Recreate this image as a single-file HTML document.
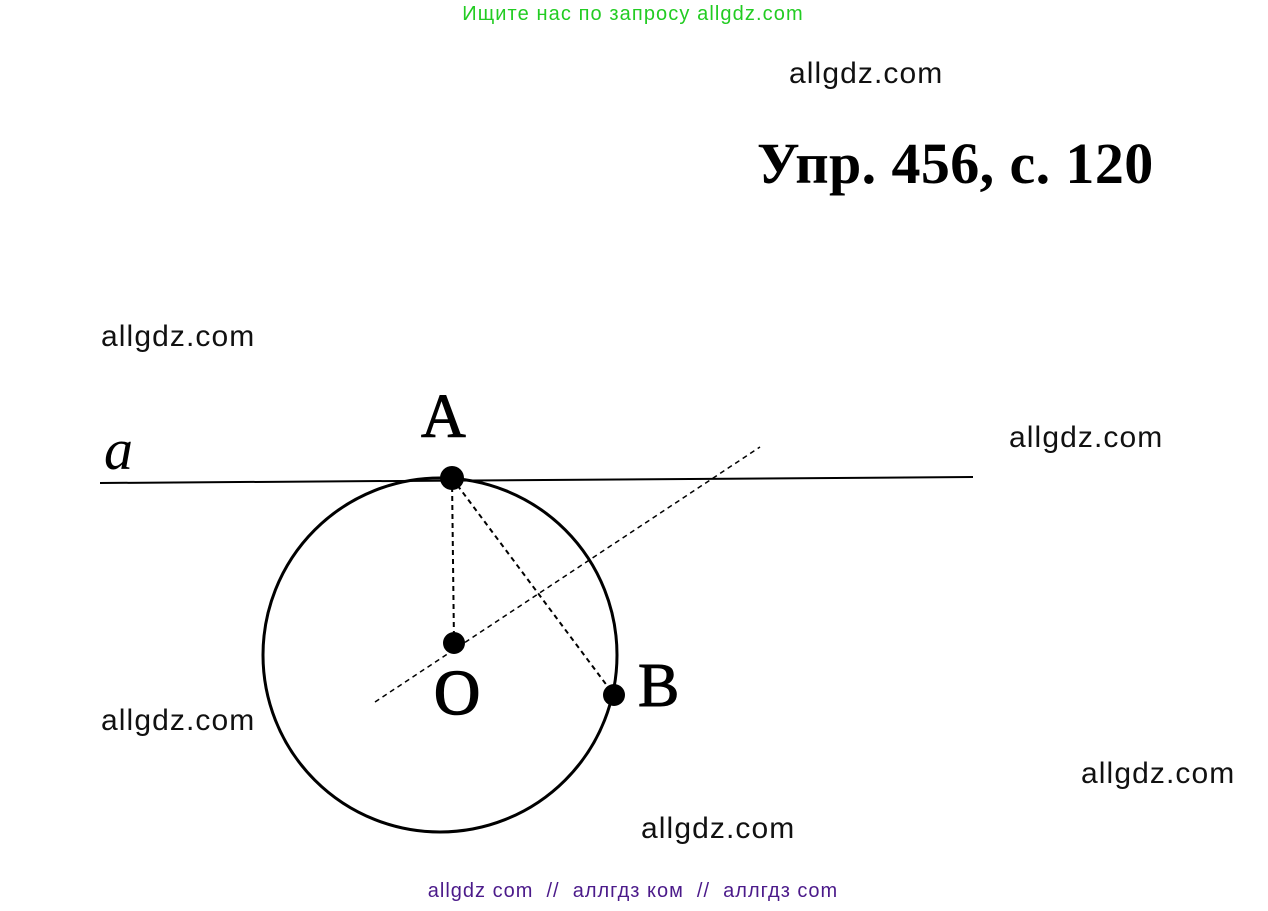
<!DOCTYPE html>
<html><head><meta charset="utf-8"><style>
html,body{margin:0;padding:0;background:#fff;}
body{width:1268px;height:911px;position:relative;overflow:hidden;font-family:"Liberation Sans",sans-serif;}
.t{position:absolute;white-space:nowrap;}
.w{font-size:30px;letter-spacing:1.1px;color:#111;}
</style></head><body>
<div class="t" style="left:0;width:1266px;text-align:center;top:3px;font-size:20px;letter-spacing:1.1px;color:#22cc22;">Ищите нас по запросу allgdz.com</div>
<div class="t w" style="left:789px;top:57px;">allgdz.com</div>
<div class="t" style="left:757px;top:130px;font-family:'Liberation Serif',serif;font-weight:bold;font-size:58px;letter-spacing:0.4px;color:#000;">Упр. 456, с. 120</div>
<div class="t w" style="left:101px;top:320px;">allgdz.com</div>
<div class="t w" style="left:1009px;top:421px;">allgdz.com</div>
<div class="t w" style="left:101px;top:704px;">allgdz.com</div>
<div class="t w" style="left:1081px;top:757px;">allgdz.com</div>
<div class="t w" style="left:641px;top:812px;">allgdz.com</div>
<svg width="1268" height="911" style="position:absolute;left:0;top:0">
<line x1="100" y1="483" x2="973" y2="477" stroke="#000" stroke-width="2"/>
<circle cx="440" cy="655" r="177" fill="none" stroke="#000" stroke-width="3"/>
<line x1="452" y1="478" x2="454" y2="643" stroke="#000" stroke-width="2" stroke-dasharray="5,4"/>
<line x1="452" y1="478" x2="614" y2="695" stroke="#000" stroke-width="2" stroke-dasharray="5,4"/>
<line x1="375" y1="702" x2="760" y2="447" stroke="#000" stroke-width="1.5" stroke-dasharray="5,4"/>
<circle cx="452" cy="478" r="12" fill="#000"/>
<circle cx="454" cy="643" r="11" fill="#000"/>
<circle cx="614" cy="695" r="11" fill="#000"/>
<text x="104" y="469" font-family="Liberation Serif,serif" font-style="italic" font-size="58">a</text>
<text x="421" y="437" font-family="Liberation Serif,serif" font-size="62" stroke="#000" stroke-width="1">A</text>
<text x="434" y="714" font-family="Liberation Serif,serif" font-size="64" stroke="#000" stroke-width="1.5">O</text>
<text x="638" y="706" font-family="Liberation Serif,serif" font-size="62" stroke="#000" stroke-width="1">B</text>
</svg>
<div class="t" style="left:0;width:1266px;text-align:center;top:880px;font-size:20px;letter-spacing:1px;color:#4b1a8a;">allgdz com&nbsp; // &nbsp;аллгдз ком&nbsp; // &nbsp;аллгдз com</div>
</body></html>
